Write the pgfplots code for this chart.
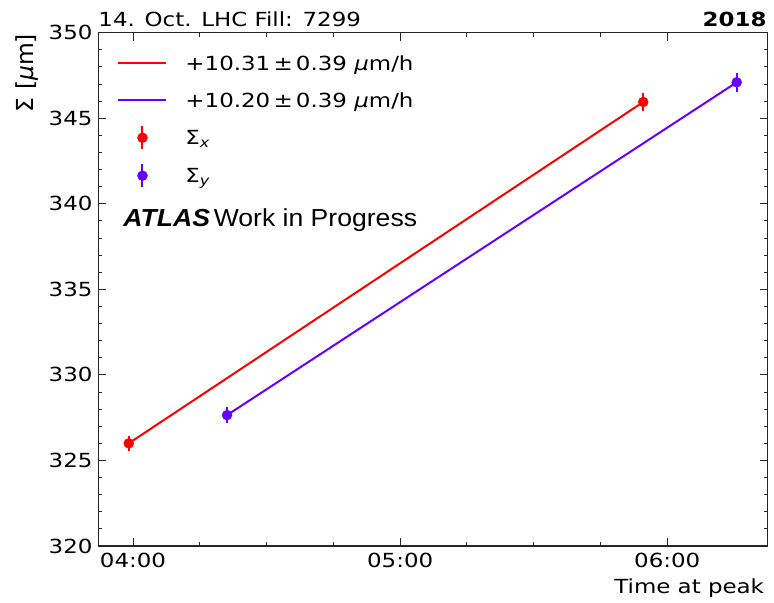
\documentclass[border=0pt]{standalone}
\usepackage{graphicx}
\usepackage{fontspec}
\setmainfont{DejaVu Sans}[FakeStretch=1.18]
\newfontfamily\uprightlabel{DejaVu Sans}
\newfontfamily\atlasfont{Liberation Sans}[FakeStretch=1.08]
\usepackage{pgfplots}
\pgfplotsset{compat=1.18}
\definecolor{sigx}{RGB}{255,0,0}
\definecolor{sigy}{RGB}{102,0,255}
\newcommand{\lblfont}{\fontsize{19.5}{22}\selectfont}

\begin{document}
\begin{tikzpicture}
\path[use as bounding box] (-98.3bp,-57bp) rectangle (675.7bp,546bp);
\begin{axis}[
  name=main,
  at={(0,0)}, anchor=south west,
  scale only axis, width=669.4bp, height=513.3bp,
  xmin=3.870, xmax=6.376, ymin=320, ymax=350,
  clip=false,
  xtick={4,5,6}, xticklabels={04:00,05:00,06:00},
  minor x tick num=3,
  ytick={320,325,...,350}, minor y tick num=4,
  tick align=inside,
  major tick length=8bp, minor tick length=4bp,
  every tick/.style={black!85, line width=1bp},
  axis line style={line width=1.2bp, black!85},
  /pgf/number format/assume math mode=true,
  tick label style={font=\lblfont, inner sep=0pt},
  yticklabel style={xshift=-5.6bp},
  xticklabel style={yshift=-6.7bp},
  xlabel={Time at peak},
  xlabel style={at={(axis description cs:1,0)}, anchor=base east,
    xshift=-3.5bp, yshift=-47.3bp, inner sep=0pt, font=\lblfont},
  legend cell align=left,
  legend style={at={(axis description cs:0,1)}, anchor=north west,
    xshift=19bp, yshift=-18.3bp, draw=none, fill=none, inner sep=0pt,
    column sep=18bp, row sep=13bp, font=\lblfont,
    nodes={inner sep=0pt, text height=19bp, text depth=5bp}},
]
% linear fits
\addplot[sigx, line width=2bp, legend image code/.code={\draw[sigx, line width=2bp] (0bp,0bp) -- (48bp,0bp);}]
  coordinates {(3.984,326.00) (5.910,345.95)};
\addlegendentry{+10.31\,±\,0.39\ \textit{μ}m/h}
\addplot[sigy, line width=2bp, legend image code/.code={\draw[sigy, line width=2bp] (0bp,0bp) -- (48bp,0bp);}]
  coordinates {(4.352,327.65) (6.260,347.10)};
\addlegendentry{+10.20\,±\,0.39\ \textit{μ}m/h}
% measured beam sizes
\addplot[sigx, only marks, mark=*, mark size=5bp, mark options={draw=sigx, fill=sigx},
  legend image code/.code={\draw[sigx, line width=2bp] (24bp,-11.5bp) -- (24bp,11.5bp); \fill[sigx] (24bp,0bp) circle (5bp);},
  error bars/.cd, y dir=both, y explicit, error mark=none,
  error bar style={line width=2bp, sigx}]
  table[x=t, y=s, y error=e] {
t s e
3.984 326.00 0.42
5.910 345.95 0.55
};
\addlegendentry{Σ\textsubscript{\itshape x}}
\addplot[sigy, only marks, mark=*, mark size=5bp, mark options={draw=sigy, fill=sigy},
  legend image code/.code={\draw[sigy, line width=2bp] (24bp,-11.5bp) -- (24bp,11.5bp); \fill[sigy] (24bp,0bp) circle (5bp);},
  error bars/.cd, y dir=both, y explicit, error mark=none,
  error bar style={line width=2bp, sigy}]
  table[x=t, y=s, y error=e] {
t s e
4.352 327.65 0.45
6.260 347.10 0.55
};
\addlegendentry{Σ\textsubscript{\itshape y}}
\node[anchor=base west, inner sep=0pt, font=\lblfont] at ([yshift=6bp]rel axis cs:0,1) {14. Oct. LHC Fill: 7299};
\node[anchor=base east, inner sep=0pt, font=\lblfont\bfseries] at ([xshift=-1bp,yshift=6bp]rel axis cs:1,1) {2018};
\node[anchor=base west, inner sep=0pt, font=\atlasfont\fontsize{24.7}{28}\selectfont] at ([xshift=25bp,yshift=-194bp]rel axis cs:0,1) {\textbf{\textit{ATLAS}}\hspace{0.15em}Work in Progress};
\end{axis}
% vertical axis title at the top end of the axis
\node[anchor=north east, inner sep=0pt]
  at ([xshift=-59.3bp,yshift=-1bp]main.north west)
  {\rotatebox{90}{\uprightlabel\fontsize{23.5}{27}\selectfont Σ [\textit{μ}m]}};
\end{tikzpicture}
\end{document}
